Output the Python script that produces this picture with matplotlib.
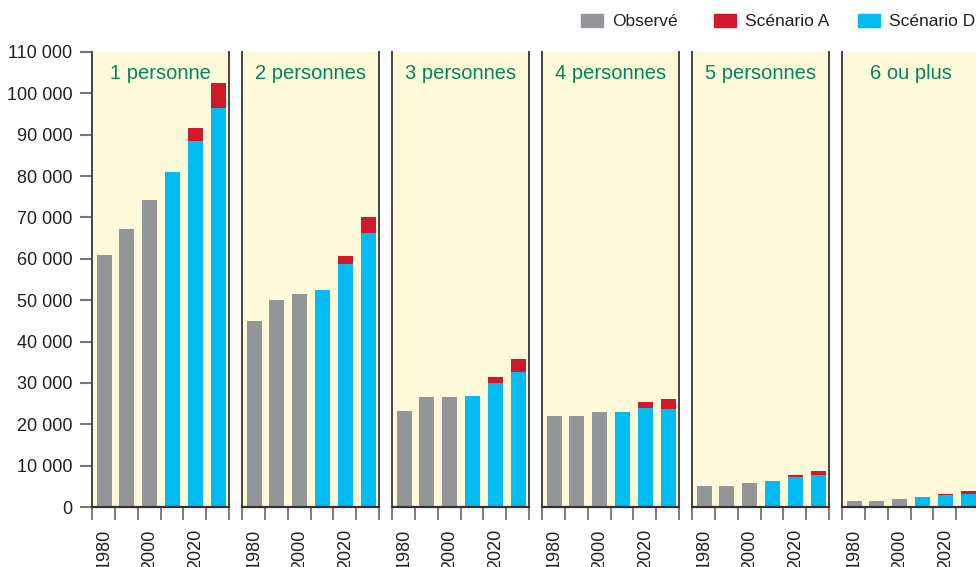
import matplotlib.pyplot as plt
from matplotlib.patches import Rectangle
from matplotlib.ticker import FuncFormatter

years = [1980, 1990, 2000, 2010, 2020, 2030]
panel_titles = ['1 personne', '2 personnes', '3 personnes', '4 personnes', '5 personnes', '6 ou plus']
# observed 1980-2000, projections 2010-2030
observed = [[61000, 67200, 74200], [45000, 50000, 51500], [23200, 26600, 26600],
            [22000, 22000, 23000], [5100, 5100, 5800], [1450, 1450, 1900]]
scenario_d = [[81000, 88500, 96500], [52500, 58800, 66200], [26800, 30000, 32600],
              [23000, 23900, 23700], [6300, 7300, 7800], [2400, 3000, 3100]]
scenario_a = [[81000, 91600, 102500], [52500, 60700, 70100], [26800, 31400, 35800],
              [23000, 25400, 26100], [6300, 7700, 8700], [2400, 3200, 3800]]

GRAY = '#939598'
RED = '#d2192b'
CYAN = '#00bcf1'
BG = '#fef9d8'
GREEN = '#00855e'
plt.rcParams['font.family'] = ['Liberation Sans', 'DejaVu Sans']

W, H = 976, 567
fig = plt.figure(figsize=(W / 100, H / 100), dpi=100)

x0, pitch, pw = 92, 150, 137
y_bot, y_top = 507, 52
for k, title in enumerate(panel_titles):
    ax = fig.add_axes([(x0 + k * pitch) / W, 1 - y_bot / H, pw / W, (y_bot - y_top) / H])
    ax.set_facecolor(BG)
    xs = [i + 0.53 for i in range(6)]
    ax.bar(xs[:3], observed[k], width=0.66, color=GRAY)
    ax.bar(xs[3:], scenario_d[k], width=0.66, color=CYAN)
    extra = [a - d for a, d in zip(scenario_a[k], scenario_d[k])]
    ax.bar(xs[3:], extra, bottom=scenario_d[k], width=0.66, color=RED)
    ax.set_xlim(0, 6)
    ax.set_ylim(0, 110000)
    ax.spines['top'].set_visible(False)
    for s in ['left', 'right']:
        ax.spines[s].set_color('#444444')
        ax.spines[s].set_linewidth(1.4)
    ax.spines['bottom'].set_color('#333333')
    ax.spines['bottom'].set_linewidth(1.6)
    ax.set_xticks(range(7))
    ax.set_xticklabels([])
    ax.tick_params(axis='x', which='major', length=9.5, width=1.2, color='#666666', direction='out')
    ax.set_xticks([xs[0], xs[2], xs[4]], minor=True)
    ax.set_xticklabels([str(years[0]), str(years[2]), str(years[4])], minor=True,
                       rotation=90, fontsize=13, color='#231f20', va='top')
    ax.tick_params(axis='x', which='minor', length=0, pad=16)
    ax.text(0.5, 0.953, title, transform=ax.transAxes, ha='center', va='center',
            fontsize=14.5, color=GREEN)
    if k == 0:
        ax.set_yticks(range(0, 110001, 10000))
        ax.yaxis.set_major_formatter(FuncFormatter(lambda v, p: f'{v:,.0f}'.replace(',', ' ')))
        ax.tick_params(axis='y', length=9, width=1.5, color='#777777', labelsize=13,
                       labelcolor='#231f20', pad=5)
    else:
        ax.set_yticks([])

# legend along the top
legend_items = [('Observé', GRAY, 581), ('Scénario A', RED, 714), ('Scénario D', CYAN, 858)]
for label, col, px in legend_items:
    fig.patches.append(Rectangle((px / W, 1 - 27 / H), 22 / W, 13 / H, transform=fig.transFigure,
                                 color=col, figure=fig))
    fig.text((px + 31) / W, 1 - 21 / H, label, fontsize=12.5, color='#231f20', va='center')

plt.savefig('out.png', dpi=100)
